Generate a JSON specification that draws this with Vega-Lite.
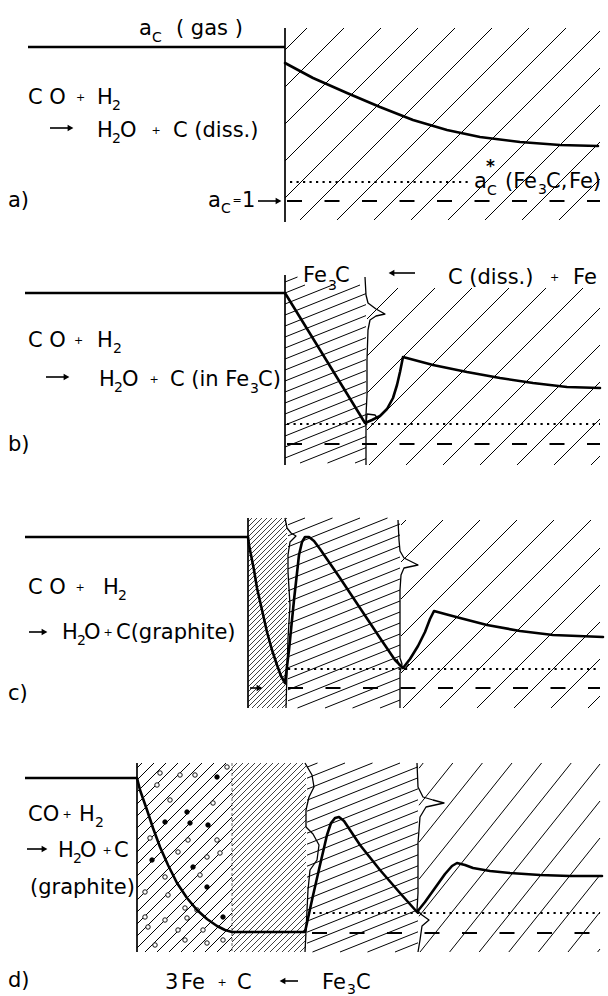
{
"$schema":"https://vega.github.io/schema/vega-lite/v6.json",
"width":608,"height":996,"padding":0,"autosize":{"type":"none"},
"background":"white",
"config":{"view":{"stroke":null}},
"datasets":{
"hatch":[
{"x":285,"y":50,"x2":307,"y2":28},{"x":285,"y":87,"x2":344,"y2":28},{"x":285,"y":124,"x2":381,"y2":28},{"x":285,"y":161,"x2":418,"y2":28},{"x":285,"y":198,"x2":455,"y2":28},{"x":300,"y":220,"x2":492,"y2":28},{"x":337,"y":220,"x2":529,"y2":28},{"x":374,"y":220,"x2":566,"y2":28},{"x":411,"y":220,"x2":600,"y2":31},{"x":448,"y":220,"x2":600,"y2":68},{"x":485,"y":220,"x2":600,"y2":105},{"x":522,"y":220,"x2":600,"y2":142},{"x":559,"y":220,"x2":600,"y2":179},
{"x":285,"y":282,"x2":297.5,"y2":277},{"x":285,"y":293,"x2":305,"y2":285},{"x":285,"y":304,"x2":332.5,"y2":285},{"x":285,"y":315,"x2":360,"y2":285},{"x":285,"y":326,"x2":366,"y2":293.6},{"x":285,"y":337,"x2":366,"y2":304.6},{"x":285,"y":348,"x2":366,"y2":315.6},{"x":285,"y":359,"x2":366,"y2":326.6},{"x":285,"y":370,"x2":366,"y2":337.6},{"x":285,"y":381,"x2":366,"y2":348.6},{"x":285,"y":392,"x2":366,"y2":359.6},{"x":285,"y":403,"x2":366,"y2":370.6},{"x":285,"y":414,"x2":366,"y2":381.6},{"x":285,"y":425,"x2":366,"y2":392.6},{"x":285,"y":436,"x2":366,"y2":403.6},{"x":285,"y":447,"x2":366,"y2":414.6},{"x":285,"y":458,"x2":366,"y2":425.6},{"x":300,"y":463,"x2":366,"y2":436.6},{"x":327.5,"y":463,"x2":366,"y2":447.6},{"x":355,"y":463,"x2":366,"y2":458.6},
{"x":367,"y":319,"x2":398,"y2":288},{"x":367,"y":356,"x2":435,"y2":288},{"x":367,"y":393,"x2":472,"y2":288},{"x":367,"y":430,"x2":509,"y2":288},{"x":369,"y":465,"x2":546,"y2":288},{"x":406,"y":465,"x2":583,"y2":288},{"x":443,"y":465,"x2":600,"y2":308},{"x":480,"y":465,"x2":600,"y2":345},{"x":517,"y":465,"x2":600,"y2":382},{"x":554,"y":465,"x2":600,"y2":419},{"x":591,"y":465,"x2":600,"y2":456},
{"x":288,"y":524.8,"x2":305,"y2":518},{"x":288,"y":535.8,"x2":332.5,"y2":518},{"x":288,"y":546.8,"x2":360,"y2":518},{"x":288,"y":557.8,"x2":387.5,"y2":518},{"x":288,"y":568.8,"x2":400,"y2":524},{"x":288,"y":579.8,"x2":400,"y2":535},{"x":288,"y":590.8,"x2":400,"y2":546},{"x":288,"y":601.8,"x2":400,"y2":557},{"x":288,"y":612.8,"x2":400,"y2":568},{"x":288,"y":623.8,"x2":400,"y2":579},{"x":288,"y":634.8,"x2":400,"y2":590},{"x":288,"y":645.8,"x2":400,"y2":601},{"x":288,"y":656.8,"x2":400,"y2":612},{"x":288,"y":667.8,"x2":400,"y2":623},{"x":288,"y":678.8,"x2":400,"y2":634},{"x":288,"y":689.8,"x2":400,"y2":645},{"x":288,"y":700.8,"x2":400,"y2":656},{"x":297.5,"y":708,"x2":400,"y2":667},{"x":325,"y":708,"x2":400,"y2":678},{"x":352.5,"y":708,"x2":400,"y2":689},{"x":380,"y":708,"x2":400,"y2":700},
{"x":401,"y":525,"x2":406,"y2":520},{"x":401,"y":562,"x2":443,"y2":520},{"x":401,"y":599,"x2":480,"y2":520},{"x":401,"y":636,"x2":517,"y2":520},{"x":401,"y":673,"x2":554,"y2":520},{"x":403,"y":708,"x2":591,"y2":520},{"x":440,"y":708,"x2":600,"y2":548},{"x":477,"y":708,"x2":600,"y2":585},{"x":514,"y":708,"x2":600,"y2":622},{"x":551,"y":708,"x2":600,"y2":659},{"x":588,"y":708,"x2":600,"y2":696},
{"x":137,"y":768,"x2":142,"y2":763},{"x":137,"y":780,"x2":154,"y2":763},{"x":137,"y":792,"x2":166,"y2":763},{"x":137,"y":804,"x2":178,"y2":763},{"x":137,"y":816,"x2":190,"y2":763},{"x":137,"y":828,"x2":202,"y2":763},{"x":137,"y":840,"x2":214,"y2":763},{"x":137,"y":852,"x2":226,"y2":763},{"x":137,"y":864,"x2":232,"y2":769},{"x":137,"y":876,"x2":232,"y2":781},{"x":137,"y":888,"x2":232,"y2":793},{"x":137,"y":900,"x2":232,"y2":805},{"x":137,"y":912,"x2":232,"y2":817},{"x":137,"y":924,"x2":232,"y2":829},{"x":137,"y":936,"x2":232,"y2":841},{"x":137,"y":948,"x2":232,"y2":853},{"x":145,"y":952,"x2":232,"y2":865},{"x":157,"y":952,"x2":232,"y2":877},{"x":169,"y":952,"x2":232,"y2":889},{"x":181,"y":952,"x2":232,"y2":901},{"x":193,"y":952,"x2":232,"y2":913},{"x":205,"y":952,"x2":232,"y2":925},{"x":217,"y":952,"x2":232,"y2":937},{"x":229,"y":952,"x2":232,"y2":949},
{"x":307,"y":767.2,"x2":317.5,"y2":763},{"x":307,"y":778.2,"x2":345,"y2":763},{"x":307,"y":789.2,"x2":372.5,"y2":763},{"x":307,"y":800.2,"x2":400,"y2":763},{"x":307,"y":811.2,"x2":418,"y2":766.8},{"x":307,"y":822.2,"x2":418,"y2":777.8},{"x":307,"y":833.2,"x2":418,"y2":788.8},{"x":307,"y":844.2,"x2":418,"y2":799.8},{"x":307,"y":855.2,"x2":418,"y2":810.8},{"x":307,"y":866.2,"x2":418,"y2":821.8},{"x":307,"y":877.2,"x2":418,"y2":832.8},{"x":307,"y":888.2,"x2":418,"y2":843.8},{"x":307,"y":899.2,"x2":418,"y2":854.8},{"x":307,"y":910.2,"x2":418,"y2":865.8},{"x":307,"y":921.2,"x2":418,"y2":876.8},{"x":307,"y":932.2,"x2":418,"y2":887.8},{"x":307,"y":943.2,"x2":418,"y2":898.8},{"x":312.5,"y":952,"x2":418,"y2":909.8},{"x":340,"y":952,"x2":418,"y2":920.8},{"x":367.5,"y":952,"x2":418,"y2":931.8},{"x":395,"y":952,"x2":418,"y2":942.8},
{"x":419,"y":768.25,"x2":423.2,"y2":763},{"x":419,"y":805.25,"x2":452.8,"y2":763},{"x":419,"y":842.25,"x2":482.4,"y2":763},{"x":419,"y":879.25,"x2":512,"y2":763},{"x":419,"y":916.25,"x2":541.6,"y2":763},{"x":420,"y":952,"x2":571.2,"y2":763},{"x":449.6,"y":952,"x2":600,"y2":764},{"x":479.2,"y":952,"x2":600,"y2":801},{"x":508.8,"y":952,"x2":600,"y2":838},{"x":538.4,"y":952,"x2":600,"y2":875},{"x":568,"y":952,"x2":600,"y2":912},{"x":597.6,"y":952,"x2":600,"y2":949}
],
"dense":[
{"x":248,"y":522,"x2":252,"y2":518},{"x":248,"y":527,"x2":257,"y2":518},{"x":248,"y":532,"x2":262,"y2":518},{"x":248,"y":537,"x2":267,"y2":518},{"x":248,"y":542,"x2":272,"y2":518},{"x":248,"y":547,"x2":277,"y2":518},{"x":248,"y":552,"x2":282,"y2":518},{"x":248,"y":557,"x2":287,"y2":518},{"x":248,"y":562,"x2":287,"y2":523},{"x":248,"y":567,"x2":287,"y2":528},{"x":248,"y":572,"x2":287,"y2":533},{"x":248,"y":577,"x2":287,"y2":538},{"x":248,"y":582,"x2":287,"y2":543},{"x":248,"y":587,"x2":287,"y2":548},{"x":248,"y":592,"x2":287,"y2":553},{"x":248,"y":597,"x2":287,"y2":558},{"x":248,"y":602,"x2":287,"y2":563},{"x":248,"y":607,"x2":287,"y2":568},{"x":248,"y":612,"x2":287,"y2":573},{"x":248,"y":617,"x2":287,"y2":578},{"x":248,"y":622,"x2":287,"y2":583},{"x":248,"y":627,"x2":287,"y2":588},{"x":248,"y":632,"x2":287,"y2":593},{"x":248,"y":637,"x2":287,"y2":598},{"x":248,"y":642,"x2":287,"y2":603},{"x":248,"y":647,"x2":287,"y2":608},{"x":248,"y":652,"x2":287,"y2":613},{"x":248,"y":657,"x2":287,"y2":618},{"x":248,"y":662,"x2":287,"y2":623},{"x":248,"y":667,"x2":287,"y2":628},{"x":248,"y":672,"x2":287,"y2":633},{"x":248,"y":677,"x2":287,"y2":638},{"x":248,"y":682,"x2":287,"y2":643},{"x":248,"y":687,"x2":287,"y2":648},{"x":248,"y":692,"x2":287,"y2":653},{"x":248,"y":697,"x2":287,"y2":658},{"x":248,"y":702,"x2":287,"y2":663},{"x":248,"y":707,"x2":287,"y2":668},{"x":252,"y":708,"x2":287,"y2":673},{"x":257,"y":708,"x2":287,"y2":678},{"x":262,"y":708,"x2":287,"y2":683},{"x":267,"y":708,"x2":287,"y2":688},{"x":272,"y":708,"x2":287,"y2":693},{"x":277,"y":708,"x2":287,"y2":698},{"x":282,"y":708,"x2":287,"y2":703},
{"x":232,"y":768,"x2":237,"y2":763},{"x":232,"y":774,"x2":243,"y2":763},{"x":232,"y":780,"x2":249,"y2":763},{"x":232,"y":786,"x2":255,"y2":763},{"x":232,"y":792,"x2":261,"y2":763},{"x":232,"y":798,"x2":267,"y2":763},{"x":232,"y":804,"x2":273,"y2":763},{"x":232,"y":810,"x2":279,"y2":763},{"x":232,"y":816,"x2":285,"y2":763},{"x":232,"y":822,"x2":291,"y2":763},{"x":232,"y":828,"x2":297,"y2":763},{"x":232,"y":834,"x2":303,"y2":763},{"x":232,"y":840,"x2":306,"y2":766},{"x":232,"y":846,"x2":306,"y2":772},{"x":232,"y":852,"x2":306,"y2":778},{"x":232,"y":858,"x2":306,"y2":784},{"x":232,"y":864,"x2":306,"y2":790},{"x":232,"y":870,"x2":306,"y2":796},{"x":232,"y":876,"x2":306,"y2":802},{"x":232,"y":882,"x2":306,"y2":808},{"x":232,"y":888,"x2":306,"y2":814},{"x":232,"y":894,"x2":306,"y2":820},{"x":232,"y":900,"x2":306,"y2":826},{"x":232,"y":906,"x2":306,"y2":832},{"x":232,"y":912,"x2":306,"y2":838},{"x":232,"y":918,"x2":306,"y2":844},{"x":232,"y":924,"x2":306,"y2":850},{"x":232,"y":930,"x2":306,"y2":856},{"x":232,"y":936,"x2":306,"y2":862},{"x":232,"y":942,"x2":306,"y2":868},{"x":232,"y":948,"x2":306,"y2":874},{"x":234,"y":952,"x2":306,"y2":880},{"x":240,"y":952,"x2":306,"y2":886},{"x":246,"y":952,"x2":306,"y2":892},{"x":252,"y":952,"x2":306,"y2":898},{"x":258,"y":952,"x2":306,"y2":904},{"x":264,"y":952,"x2":306,"y2":910},{"x":270,"y":952,"x2":306,"y2":916},{"x":276,"y":952,"x2":306,"y2":922},{"x":282,"y":952,"x2":306,"y2":928},{"x":288,"y":952,"x2":306,"y2":934},{"x":294,"y":952,"x2":306,"y2":940},{"x":300,"y":952,"x2":306,"y2":946}
],
"gas":[
{"x":28,"y":47,"x2":285,"y2":47},{"x":25,"y":293,"x2":285,"y2":293},{"x":25,"y":537,"x2":248,"y2":537},{"x":25,"y":778,"x2":137,"y2":778}
],
"vb":[
{"x":285,"y":28,"x2":285,"y2":222},{"x":285,"y":275,"x2":285,"y2":465},{"x":248,"y":518,"x2":248,"y2":708},{"x":137,"y":763,"x2":137,"y2":952}
],
"thinb":[
{"x":232,"y":763,"x2":232,"y2":952}
],
"dot":[
{"x":290,"x2":470,"y":182},{"x":287,"x2":600,"y":424},{"x":288,"x2":600,"y":669},{"x":313,"x2":600,"y":913}
],
"dash":[
{"x":287,"x2":600,"y":201},{"x":287,"x2":600,"y":444},{"x":288,"x2":600,"y":688},{"x":312,"x2":600,"y":933}
],
"curve":[
{"id":"a","x":285,"y":63},{"id":"a","x":313,"y":78},{"id":"a","x":347,"y":93},{"id":"a","x":380,"y":107},{"id":"a","x":413,"y":120},{"id":"a","x":447,"y":130},{"id":"a","x":480,"y":137},{"id":"a","x":520,"y":142},{"id":"a","x":560,"y":145},{"id":"a","x":598,"y":146},
{"id":"b","x":285,"y":293},{"id":"b","x":365,"y":423},{"id":"b","x":372,"y":420},{"id":"b","x":380,"y":416},{"id":"b","x":387,"y":409},{"id":"b","x":393,"y":398},{"id":"b","x":397,"y":385},{"id":"b","x":400,"y":372},{"id":"b","x":403,"y":357},{"id":"b","x":433,"y":365},{"id":"b","x":467,"y":372},{"id":"b","x":500,"y":378},{"id":"b","x":533,"y":383},{"id":"b","x":567,"y":387},{"id":"b","x":600,"y":388},
{"id":"c","x":248,"y":537},{"id":"c","x":249,"y":545},{"id":"c","x":251,"y":555},{"id":"c","x":254,"y":570},{"id":"c","x":257,"y":588},{"id":"c","x":262,"y":610},{"id":"c","x":267,"y":632},{"id":"c","x":272,"y":650},{"id":"c","x":277,"y":665},{"id":"c","x":281,"y":676},{"id":"c","x":285,"y":683},{"id":"c","x":289,"y":650},{"id":"c","x":294,"y":600},{"id":"c","x":299,"y":555},{"id":"c","x":302,"y":542},{"id":"c","x":305,"y":537},{"id":"c","x":309,"y":537},{"id":"c","x":314,"y":541},{"id":"c","x":320,"y":549},{"id":"c","x":340,"y":578},{"id":"c","x":360,"y":608},{"id":"c","x":380,"y":638},{"id":"c","x":395,"y":660},{"id":"c","x":403,"y":668},{"id":"c","x":410,"y":659},{"id":"c","x":418,"y":646},{"id":"c","x":425,"y":632},{"id":"c","x":430,"y":619},{"id":"c","x":434,"y":611},{"id":"c","x":445,"y":614},{"id":"c","x":460,"y":618},{"id":"c","x":487,"y":625},{"id":"c","x":520,"y":631},{"id":"c","x":553,"y":635},{"id":"c","x":603,"y":637},
{"id":"d","x":137,"y":778},{"id":"d","x":140,"y":790},{"id":"d","x":147,"y":810},{"id":"d","x":153,"y":828},{"id":"d","x":160,"y":847},{"id":"d","x":168,"y":865},{"id":"d","x":177,"y":883},{"id":"d","x":187,"y":898},{"id":"d","x":197,"y":910},{"id":"d","x":207,"y":919},{"id":"d","x":217,"y":926},{"id":"d","x":225,"y":930},{"id":"d","x":232,"y":932},{"id":"d","x":305,"y":932},{"id":"d","x":312,"y":900},{"id":"d","x":320,"y":865},{"id":"d","x":327,"y":835},{"id":"d","x":331,"y":823},{"id":"d","x":335,"y":818},{"id":"d","x":339,"y":817},{"id":"d","x":344,"y":821},{"id":"d","x":350,"y":830},{"id":"d","x":360,"y":845},{"id":"d","x":380,"y":870},{"id":"d","x":400,"y":893},{"id":"d","x":417,"y":912},{"id":"d","x":425,"y":902},{"id":"d","x":435,"y":888},{"id":"d","x":445,"y":874},{"id":"d","x":452,"y":866},{"id":"d","x":457,"y":863},{"id":"d","x":465,"y":865},{"id":"d","x":473,"y":868},{"id":"d","x":490,"y":871},{"id":"d","x":510,"y":873},{"id":"d","x":540,"y":875},{"id":"d","x":570,"y":876},{"id":"d","x":602,"y":876}
],
"wavy":[
{"id":"bR","x":365,"y":277},{"id":"bR","x":366,"y":295},{"id":"bR","x":368,"y":303},{"id":"bR","x":376,"y":309},{"id":"bR","x":385,"y":314},{"id":"bR","x":376,"y":316},{"id":"bR","x":370,"y":320},{"id":"bR","x":368,"y":330},{"id":"bR","x":367,"y":360},{"id":"bR","x":367,"y":395},{"id":"bR","x":366,"y":415},{"id":"bR","x":366,"y":425},{"id":"bR","x":366,"y":465},
{"id":"bK","x":366,"y":424},{"id":"bK","x":367,"y":414},{"id":"bK","x":375,"y":415},{"id":"bK","x":378,"y":419},
{"id":"cM","x":285,"y":518},{"id":"cM","x":287,"y":528},{"id":"cM","x":291,"y":533},{"id":"cM","x":296,"y":536},{"id":"cM","x":290,"y":542},{"id":"cM","x":288,"y":555},{"id":"cM","x":288,"y":572},{"id":"cM","x":290,"y":605},{"id":"cM","x":288,"y":638},{"id":"cM","x":287,"y":672},{"id":"cM","x":286,"y":708},
{"id":"cR","x":398,"y":520},{"id":"cR","x":399,"y":540},{"id":"cR","x":400,"y":551},{"id":"cR","x":404,"y":558},{"id":"cR","x":418,"y":565},{"id":"cR","x":404,"y":568},{"id":"cR","x":401,"y":575},{"id":"cR","x":400,"y":590},{"id":"cR","x":400,"y":640},{"id":"cR","x":400,"y":658},{"id":"cR","x":402,"y":664},{"id":"cR","x":400,"y":672},{"id":"cR","x":400,"y":708},
{"id":"cK","x":397,"y":659},{"id":"cK","x":399,"y":665},{"id":"cK","x":405,"y":669},{"id":"cK","x":409,"y":664},
{"id":"dM","x":305,"y":763},{"id":"dM","x":312,"y":775},{"id":"dM","x":314,"y":787},{"id":"dM","x":309,"y":797},{"id":"dM","x":306,"y":810},{"id":"dM","x":306,"y":827},{"id":"dM","x":313,"y":834},{"id":"dM","x":319,"y":845},{"id":"dM","x":317,"y":860},{"id":"dM","x":310,"y":870},{"id":"dM","x":308,"y":890},{"id":"dM","x":307,"y":910},{"id":"dM","x":306,"y":932},{"id":"dM","x":305,"y":952},
{"id":"dR","x":417,"y":763},{"id":"dR","x":418,"y":787},{"id":"dR","x":423,"y":797},{"id":"dR","x":433,"y":800},{"id":"dR","x":444,"y":803},{"id":"dR","x":426,"y":807},{"id":"dR","x":420,"y":817},{"id":"dR","x":418,"y":843},{"id":"dR","x":418,"y":893},{"id":"dR","x":417,"y":910},{"id":"dR","x":422,"y":915},{"id":"dR","x":429,"y":920},{"id":"dR","x":422,"y":926},{"id":"dR","x":420,"y":940},{"id":"dR","x":418,"y":952}
],
"circ":[
{"x":160,"y":773,"f":0},{"x":180,"y":775,"f":0},{"x":195,"y":775,"f":0},{"x":217,"y":777,"f":1},{"x":227,"y":767,"f":0},{"x":157,"y":785,"f":0},{"x":170,"y":800,"f":0},{"x":187,"y":812,"f":1},{"x":213,"y":803,"f":0},{"x":165,"y":822,"f":1},{"x":190,"y":823,"f":1},{"x":208,"y":825,"f":1},{"x":150,"y":838,"f":0},{"x":188,"y":840,"f":0},{"x":217,"y":840,"f":0},{"x":178,"y":852,"f":0},{"x":220,"y":853,"f":0},{"x":152,"y":860,"f":1},{"x":193,"y":867,"f":1},{"x":207,"y":857,"f":0},{"x":165,"y":877,"f":0},{"x":200,"y":875,"f":0},{"x":207,"y":887,"f":1},{"x":145,"y":892,"f":0},{"x":168,"y":895,"f":0},{"x":185,"y":908,"f":0},{"x":197,"y":910,"f":0},{"x":145,"y":917,"f":0},{"x":165,"y":920,"f":0},{"x":187,"y":918,"f":0},{"x":223,"y":917,"f":1},{"x":148,"y":927,"f":0},{"x":178,"y":930,"f":0},{"x":203,"y":930,"f":0},{"x":155,"y":945,"f":0},{"x":185,"y":940,"f":0},{"x":207,"y":943,"f":0},{"x":223,"y":940,"f":0}
],
"shaft":[
{"x":50,"x2":71,"y":128},{"x":258,"x2":279,"y":201},{"x":46,"x2":67,"y":377},{"x":415,"x2":391,"y":273},{"x":29,"x2":45,"y":632},{"x":250,"x2":260,"y":688},{"x":27,"x2":45,"y":849},{"x":298,"x2":282,"y":981}
],
"head":[
{"x":70.5,"y":128,"d":"r"},{"x":278.5,"y":201,"d":"r"},{"x":66.5,"y":377,"d":"r"},{"x":391.5,"y":273,"d":"l"},{"x":44.5,"y":632,"d":"r"},{"x":259.5,"y":688,"d":"r"},{"x":44.5,"y":849,"d":"r"},{"x":282.5,"y":981,"d":"l"}
],
"txt":[
{"k":"m","x":139,"y":35,"t":"a"},{"k":"s","x":152,"y":42,"t":"C"},{"k":"m","x":176,"y":35,"t":"( gas )"},
{"k":"m","x":28,"y":104,"t":"C O"},{"k":"p","x":80.5,"y":100.5,"t":"+"},{"k":"m","x":97,"y":104,"t":"H"},{"k":"s","x":112,"y":110,"t":"2"},
{"k":"m","x":97,"y":137,"t":"H"},{"k":"s","x":112,"y":143,"t":"2"},{"k":"m","x":120,"y":137,"t":"O"},{"k":"p","x":156,"y":133.5,"t":"+"},{"k":"m","x":173,"y":137,"t":"C (diss.)"},
{"k":"m","x":8,"y":207,"t":"a)"},
{"k":"m","x":208,"y":207,"t":"a"},{"k":"s","x":221,"y":213,"t":"C"},{"k":"p","x":237,"y":204,"t":"="},{"k":"m","x":242,"y":207,"t":"1"},
{"k":"m","x":474,"y":188,"t":"a"},{"k":"s","x":487,"y":195,"t":"C"},{"k":"u","x":486,"y":172,"t":"*"},{"k":"m","x":505,"y":188,"t":"(Fe"},{"k":"s","x":538,"y":194,"t":"3"},{"k":"m","x":546,"y":188,"t":"C,"},{"k":"m","x":569,"y":188,"t":"Fe)"},
{"k":"m","x":303,"y":282,"t":"Fe"},{"k":"s","x":328,"y":290,"t":"3"},{"k":"m","x":335,"y":282,"t":"C"},
{"k":"m","x":448,"y":284,"t":"C (diss.)"},{"k":"p","x":554.5,"y":280.5,"t":"+"},{"k":"m","x":573,"y":284,"t":"Fe"},
{"k":"m","x":28,"y":347,"t":"C O"},{"k":"p","x":78.5,"y":343.5,"t":"+"},{"k":"m","x":97,"y":347,"t":"H"},{"k":"s","x":113,"y":353,"t":"2"},
{"k":"m","x":99,"y":386,"t":"H"},{"k":"s","x":114,"y":392,"t":"2"},{"k":"m","x":122,"y":386,"t":"O"},{"k":"p","x":154,"y":382.5,"t":"+"},{"k":"m","x":170,"y":386,"t":"C (in Fe"},{"k":"s","x":250,"y":393,"t":"3"},{"k":"m","x":258,"y":386,"t":"C)"},
{"k":"m","x":8,"y":451,"t":"b)"},
{"k":"m","x":28,"y":594,"t":"C O"},{"k":"p","x":80,"y":590.5,"t":"+"},{"k":"m","x":103,"y":594,"t":"H"},{"k":"s","x":118,"y":600,"t":"2"},
{"k":"m","x":62,"y":639,"t":"H"},{"k":"s","x":77,"y":645,"t":"2"},{"k":"m","x":84,"y":639,"t":"O"},{"k":"p","x":108,"y":635.5,"t":"+"},{"k":"m","x":116,"y":639,"t":"C(graphite)"},
{"k":"m","x":8,"y":700,"t":"c)"},
{"k":"m","x":28,"y":821,"t":"CO"},{"k":"p","x":67,"y":817.5,"t":"+"},{"k":"m","x":79,"y":821,"t":"H"},{"k":"s","x":95,"y":827,"t":"2"},
{"k":"m","x":58,"y":857,"t":"H"},{"k":"s","x":73,"y":863,"t":"2"},{"k":"m","x":80,"y":857,"t":"O"},{"k":"p","x":107,"y":853.5,"t":"+"},{"k":"m","x":114,"y":857,"t":"C"},
{"k":"m","x":30,"y":894,"t":"(graphite)"},
{"k":"m","x":8,"y":987,"t":"d)"},
{"k":"m","x":165,"y":989,"t":"3"},{"k":"m","x":181,"y":989,"t":"Fe"},{"k":"p","x":222,"y":985.5,"t":"+"},{"k":"m","x":237,"y":989,"t":"C"},{"k":"m","x":322,"y":989,"t":"Fe"},{"k":"s","x":347,"y":994,"t":"3"},{"k":"m","x":356,"y":989,"t":"C"}
]
},
"encoding":{
"x":{"field":"x","type":"quantitative","scale":{"domain":[0,608],"range":[0,608],"nice":false,"zero":false},"axis":null},
"y":{"field":"y","type":"quantitative","scale":{"domain":[0,996],"range":[0,996],"nice":false,"zero":false},"axis":null}
},
"layer":[
{"data":{"name":"hatch"},"mark":{"type":"rule","color":"black","strokeWidth":1},"encoding":{"x2":{"field":"x2"},"y2":{"field":"y2"}}},
{"data":{"name":"dense"},"mark":{"type":"rule","color":"black","strokeWidth":0.75},"encoding":{"x2":{"field":"x2"},"y2":{"field":"y2"}}},
{"data":{"name":"circ"},"mark":{"type":"point","shape":"circle","filled":true,"stroke":"black","strokeWidth":0.9,"size":20,"opacity":1},"encoding":{"fill":{"field":"f","type":"nominal","scale":{"domain":[0,1],"range":["white","black"]},"legend":null}}},
{"data":{"name":"thinb"},"mark":{"type":"rule","color":"black","strokeWidth":0.6,"strokeDash":[3,2]},"encoding":{"x2":{"field":"x2"},"y2":{"field":"y2"}}},
{"data":{"name":"wavy"},"mark":{"type":"line","color":"black","strokeWidth":1.3,"strokeJoin":"round"},"encoding":{"detail":{"field":"id"},"order":{"value":null}}},
{"data":{"name":"vb"},"mark":{"type":"rule","color":"black","strokeWidth":1.7},"encoding":{"x2":{"field":"x2"},"y2":{"field":"y2"}}},
{"data":{"name":"dot"},"mark":{"type":"rule","color":"black","strokeWidth":1.8,"strokeDash":[2.2,4.3]},"encoding":{"x2":{"field":"x2"}}},
{"data":{"name":"dash"},"mark":{"type":"rule","color":"black","strokeWidth":2,"strokeDash":[15,22.5]},"encoding":{"x2":{"field":"x2"}}},
{"data":{"name":"curve"},"mark":{"type":"line","color":"black","strokeWidth":2.6,"strokeJoin":"round","strokeCap":"round"},"encoding":{"detail":{"field":"id"},"order":{"value":null}}},
{"data":{"name":"gas"},"mark":{"type":"rule","color":"black","strokeWidth":2.5},"encoding":{"x2":{"field":"x2"},"y2":{"field":"y2"}}},
{"data":{"name":"shaft"},"mark":{"type":"rule","color":"black","strokeWidth":1.6},"encoding":{"x2":{"field":"x2"}}},
{"data":{"name":"head"},"mark":{"type":"point","filled":true,"color":"black","size":45,"opacity":1},"encoding":{"shape":{"field":"d","type":"nominal","scale":{"domain":["r","l"],"range":["triangle-right","triangle-left"]},"legend":null}}},
{"data":{"name":"txt"},"transform":[{"filter":"datum.k=='m'"}],"mark":{"type":"text","align":"left","baseline":"alphabetic","font":"DejaVu Sans","fontSize":21,"color":"black"},"encoding":{"text":{"field":"t"}}},
{"data":{"name":"txt"},"transform":[{"filter":"datum.k=='s'"}],"mark":{"type":"text","align":"left","baseline":"alphabetic","font":"DejaVu Sans","fontSize":14,"color":"black"},"encoding":{"text":{"field":"t"}}},
{"data":{"name":"txt"},"transform":[{"filter":"datum.k=='p'"}],"mark":{"type":"text","align":"center","baseline":"alphabetic","font":"DejaVu Sans","fontSize":11,"color":"black"},"encoding":{"text":{"field":"t"}}},
{"data":{"name":"txt"},"transform":[{"filter":"datum.k=='u'"}],"mark":{"type":"text","align":"left","baseline":"alphabetic","font":"DejaVu Sans","fontSize":17,"fontWeight":"bold","color":"black"},"encoding":{"text":{"field":"t"}}}
]
}
